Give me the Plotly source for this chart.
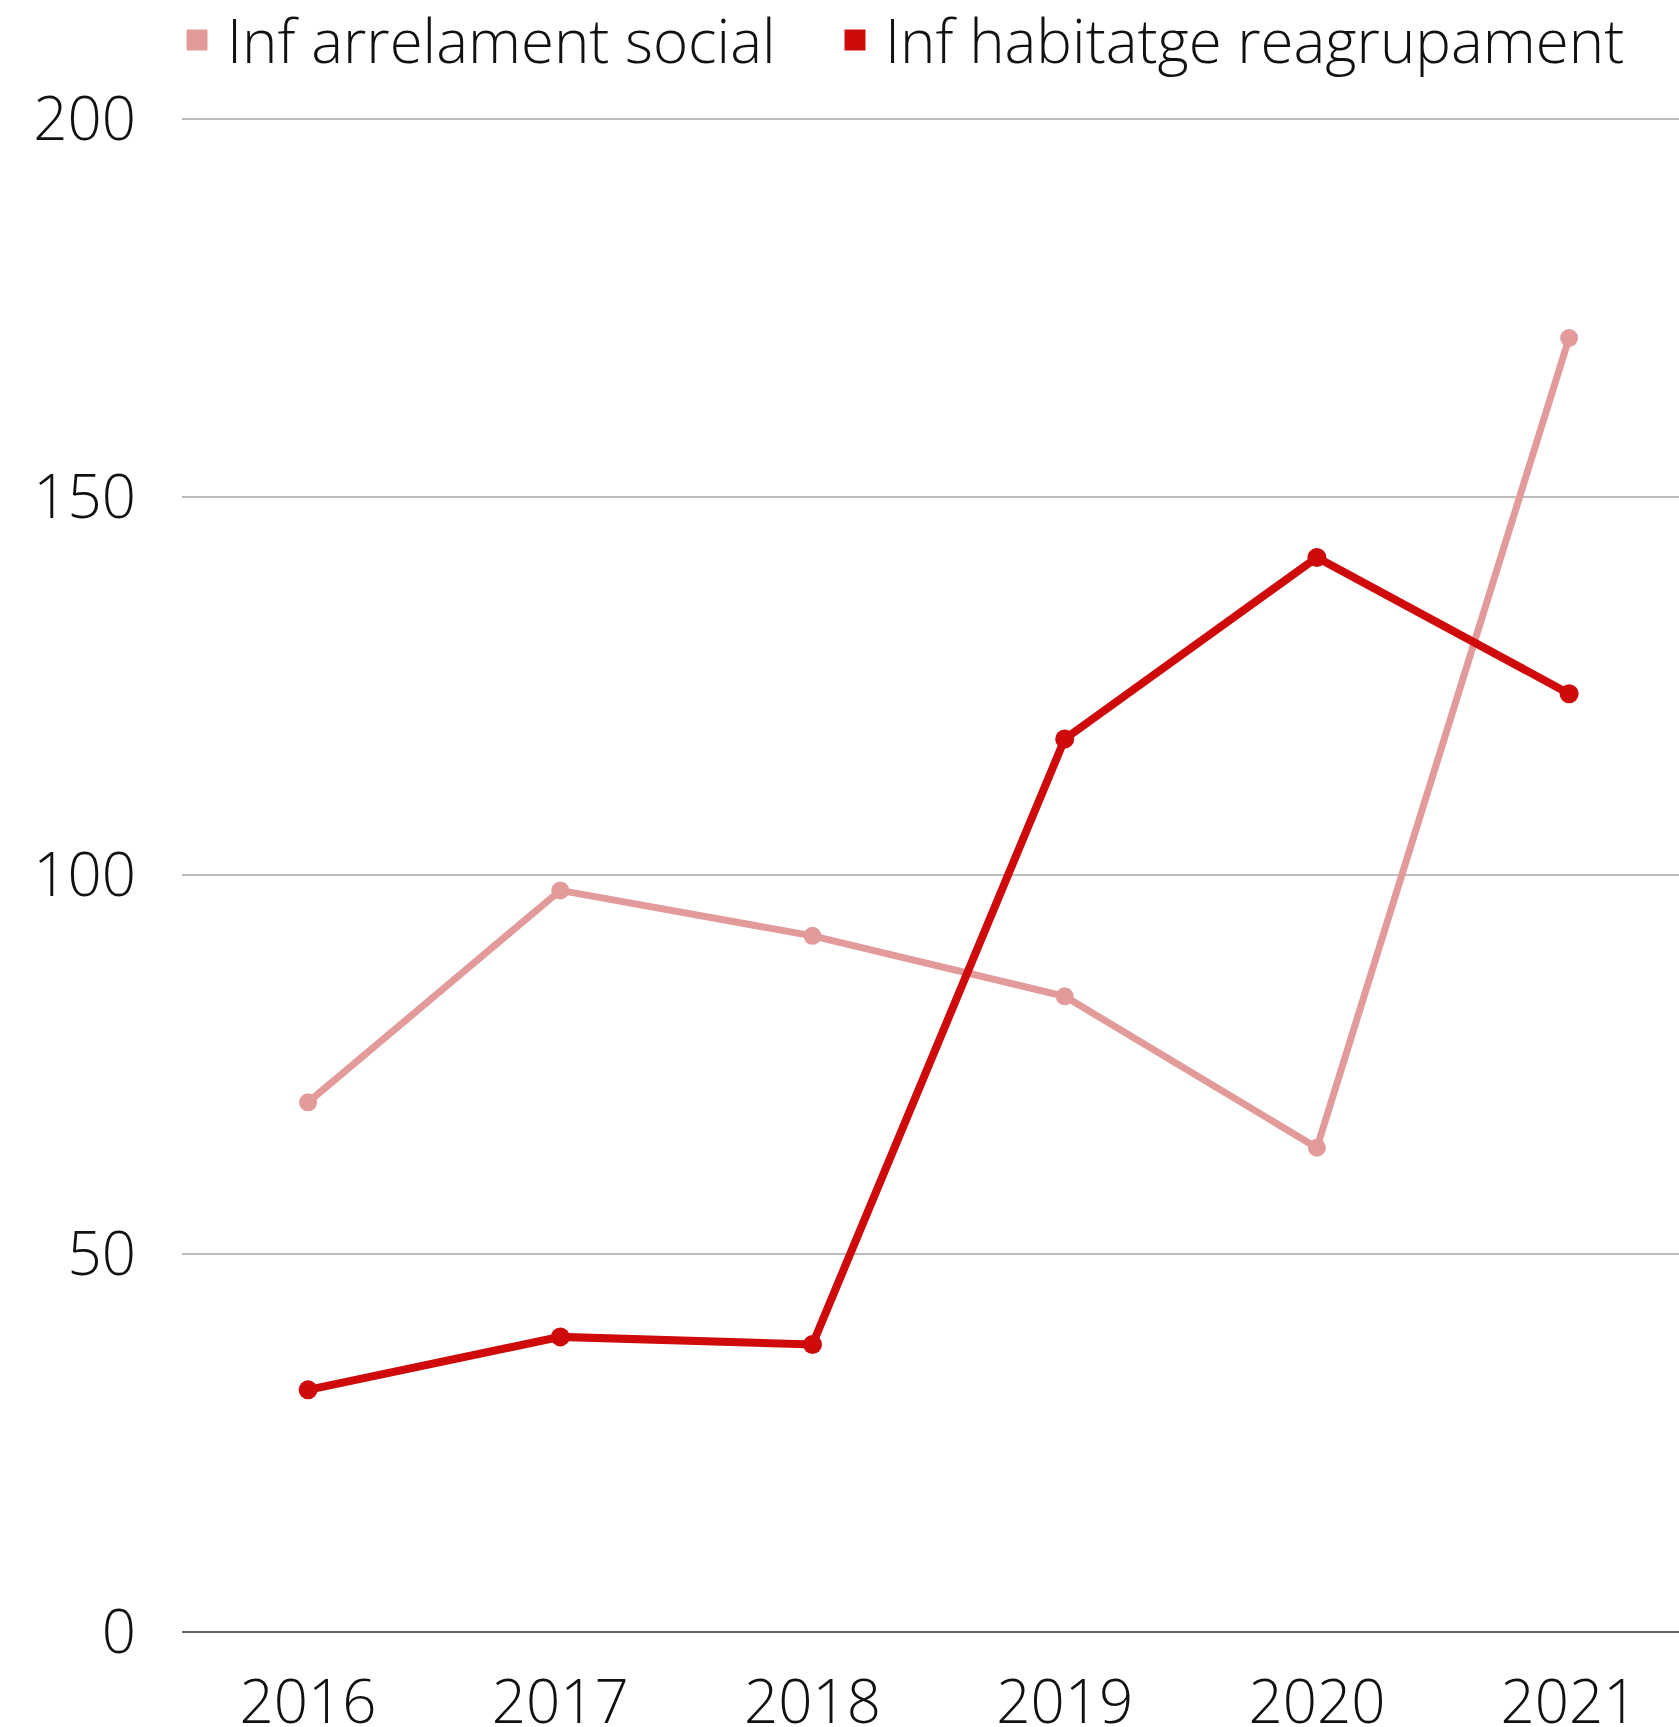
import plotly.graph_objects as go

years = [2016, 2017, 2018, 2019, 2020, 2021]
arrelament = [70, 98, 92, 84, 64, 171]
habitatge = [32, 39, 38, 118, 142, 124]
names = ["Inf arrelament social", "Inf habitatge reagrupament"]
colors = ["#E29A9B", "#CE0A0A"]
y_ticks = [0, 50, 100, 150, 200]

fig = go.Figure()
fig.add_trace(go.Scatter(x=years, y=arrelament, mode="lines+markers", name=names[0],
                         line=dict(color=colors[0], width=7), marker=dict(size=18, color=colors[0]),
                         showlegend=False))
fig.add_trace(go.Scatter(x=years, y=habitatge, mode="lines+markers", name=names[1],
                         line=dict(color=colors[1], width=8), marker=dict(size=19, color=colors[1]),
                         showlegend=False))
legend_ids = ["legend", "legend2"]
for n, c, lg in zip(names, colors, legend_ids):
    fig.add_trace(go.Scatter(x=[None], y=[None], mode="markers", name=n, legend=lg,
                             marker=dict(symbol="square", size=16, color=c,
                                         line=dict(color=c, width=5))))

W, H = 1679, 1727
px_per_unit = 7.565
L, R, B = 182, 0, H - 1632
ytop = 201
T = 119 - (ytop - 200) * px_per_unit
step = 252.2

leg_common = dict(orientation="h", xref="container", yref="container",
                  yanchor="middle", xanchor="left", itemwidth=50,
                  font=dict(size=60, weight=300), bgcolor="rgba(0,0,0,0)")
fig.update_layout(
    width=W, height=H,
    margin=dict(l=L, r=R, t=T, b=B, autoexpand=False),
    paper_bgcolor="white", plot_bgcolor="white",
    font=dict(family="Open Sans", size=60, weight=300, color="#111111"),
    legend=dict(x=167 / W, y=1 - 40 / H, **leg_common),
    legend2=dict(x=825 / W, y=1 - 40 / H, **leg_common),
    xaxis=dict(range=[2015.5, 2015.5 + (W - L - R) / step], tickvals=years,
               showgrid=False, zeroline=False, showline=False, ticks="",
               ticklabelstandoff=30, automargin=False, fixedrange=True),
    yaxis=dict(range=[0, ytop], tickvals=y_ticks, showgrid=True, gridcolor="#BDBDBD",
               gridwidth=1.5, zeroline=True, zerolinecolor="#666666", zerolinewidth=2,
               showline=False, ticks="", ticklabelstandoff=45, automargin=False),
)
fig.write_html("out.html", config={"displayModeBar": False},
               post_script="document.body.style.margin='0';document.body.style.overflow='hidden';")
